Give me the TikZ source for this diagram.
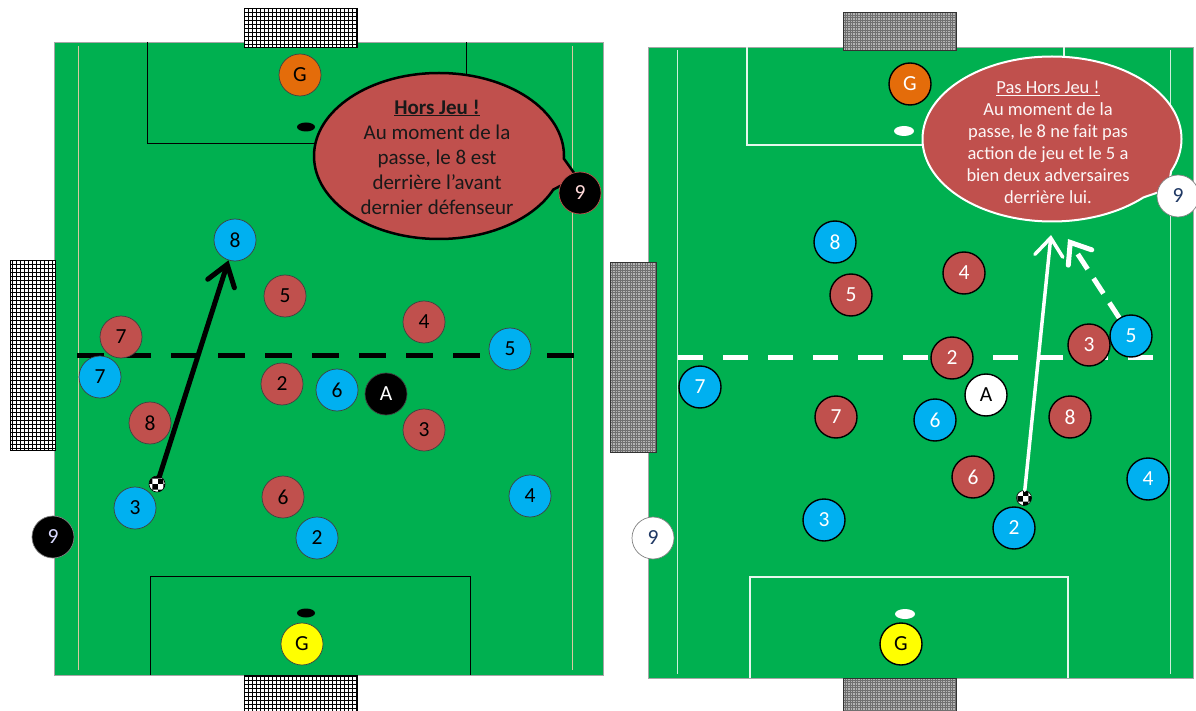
\documentclass[tikz,border=0pt]{standalone}
\usepackage{fontspec}
\setmainfont{Carlito}
\usetikzlibrary{shapes.callouts,arrows.meta,patterns}
\definecolor{pitch}{HTML}{00B050}
\definecolor{pred}{HTML}{C0504D}
\definecolor{pblue}{HTML}{00B0F0}
\definecolor{porange}{HTML}{E46C0A}
\definecolor{pyellow}{HTML}{FFFF00}
\definecolor{sideln}{HTML}{D9C9A0}
\definecolor{navy}{HTML}{1F3864}
\definecolor{netgray}{HTML}{B4B4B4}
\definecolor{netline}{HTML}{707070}
\tikzset{
  field/.style={fill=pitch,draw=gray!70,line width=0.8pt},
  goalnet/.style={fill=white,draw=black,line width=0.8pt},
  goalgrey/.style={fill=netgray,draw=black!80,line width=0.8pt},
  pl/.style={circle,minimum size=42pt,inner sep=0pt,draw=black!75,line width=0.7pt,
    font=\fontsize{21.5}{21.5}\selectfont},
  plR/.style={pl,draw=black,line width=1.4pt,text=white},
  lred/.style={pl,fill=pred},
  lblue/.style={pl,fill=pblue},
  rred/.style={plR,fill=pred},
  rblue/.style={plR,fill=pblue},
  ball/.style={circle,minimum size=16pt,inner sep=0pt,draw=black,line width=0.6pt,
    preaction={fill=white},pattern=checkerboard},
  bubble/.style={ellipse callout,fill=pred,inner sep=0pt,callout pointer arc=22},
}
\begin{document}
\begin{tikzpicture}[x=1pt,y=-1pt]
\useasboundingbox (0,0) rectangle (1196,711);
\fill[white] (0,0) rectangle (1196,711);

% ================= LEFT FIELD =================
\draw[field] (54,42) rectangle (603,675);
\draw[sideln,line width=0.9pt] (78,46) -- (78,670) (572,46) -- (572,670);
\draw[black,line width=0.9pt] (147,42) |- (466,143) -- (466,42);
\draw[black,line width=0.9pt] (150,675) |- (470,576) -- (470,675);
\fill[black] (306,127) ellipse [x radius=9, y radius=4.5];
\fill[black] (306,613) ellipse [x radius=9, y radius=4.5];
% goals
\draw[goalnet] (244,8) rectangle (357,47);
\draw[black,line width=0.9pt,step=4pt] (244,8) grid (357,47);
\draw[black,line width=0.8pt] (244,8) rectangle (357,47);
\draw[goalnet] (10,260) rectangle (55,450);
\draw[black,line width=0.9pt,step=4pt] (10,260) grid (55,450);
\draw[black,line width=0.8pt] (10,260) rectangle (55,450);
\draw[goalnet] (244,675) rectangle (357,711);
\draw[black,line width=0.9pt,step=4pt] (244,675) grid (357,711);
\draw[black,line width=0.8pt] (244,675) rectangle (357,711);
% offside line
\coordinate (offLa) at (77,355);
\coordinate (offLb) at (574,355);
\draw[black,line width=5pt,dash pattern=on 27pt off 20pt] (offLa) -- (offLb);
% callout
\node[bubble,draw=black,line width=2.5pt,minimum width=250pt,minimum height=166pt,
  callout absolute pointer={(577,177)}] (callL) at (439,156) {};
\node[align=center,text=black!90,font=\fontsize{21}{25}\selectfont] (txtL) at (437,157)
  {\textbf{\underline{Hors Jeu !}}\\Au moment de la\\passe, le 8 est\\derrière l’avant\\dernier défenseur};
% players
\node[lred] (lr5) at (285,296) {5};
\node[lred] (lr4) at (424,322) {4};
\node[lred] (lr7) at (121,337) {7};
\node[lred] (lr2) at (282,384) {2};
\node[lred] (lr8) at (150,423) {8};
\node[lred] (lr3) at (424,430) {3};
\node[lred] (lr6) at (283,497) {6};
\node[lblue] (lb8) at (235,240) {8};
\node[lblue] (lb5) at (510,349) {5};
\node[lblue] (lb7) at (100,377) {7};
\node[lblue] (lb6) at (337,390) {6};
\node[lblue] (lb3) at (135,508) {3};
\node[lblue] (lb4) at (530,496) {4};
\node[lblue] (lb2) at (317,538) {2};
\node[pl,fill=black,text=white] (lA) at (386,394) {A};
\node[pl,fill=porange] (lGo) at (300,75) {G};
\node[pl,fill=pyellow] (lGy) at (302,644) {G};
\node[pl,fill=black,draw=pred,text=red!15] (l9a) at (580,193) {9};
\node[pl,fill=black,draw=gray,text=blue!15] (l9b) at (53,537) {9};
\node[ball] (ballL) at (157,484) {};
\draw[black,line width=5pt,line cap=round,
  -{Straight Barb[length=20pt,width=28pt,line cap=round]}] (ballL) -- (lb8);

% ================= RIGHT FIELD =================
\draw[field] (648,47) rectangle (1193,678);
\draw[white!80!pitch,line width=1pt] (677,50) -- (677,674) (1170,50) -- (1170,674);
\draw[white!90!pitch,line width=1.4pt] (747,47) |- (1064,145) -- (1064,47);
\draw[white!90!pitch,line width=1.4pt] (750,678) |- (1068,577) -- (1068,678);
\fill[white] (904,131) ellipse [x radius=10, y radius=5];
\fill[white] (905,614) ellipse [x radius=10, y radius=5];
% goals
\draw[goalgrey] (843,12) rectangle (956,50);
\draw[netline,line width=0.5pt,step=2.5pt] (843,12) grid (956,50);
\draw[black!80,line width=0.8pt] (843,12) rectangle (956,50);
\draw[goalgrey] (610,262) rectangle (656,452);
\draw[netline,line width=0.5pt,step=2.5pt] (610,262) grid (656,452);
\draw[black!80,line width=0.8pt] (610,262) rectangle (656,452);
\draw[goalgrey] (843,678) rectangle (956,711);
\draw[netline,line width=0.5pt,step=2.5pt] (843,678) grid (956,711);
\draw[black!80,line width=0.8pt] (843,678) rectangle (956,711);
% offside line
\coordinate (offRa) at (678,357);
\coordinate (offRb) at (1153,357);
\draw[white,line width=5pt,dash pattern=on 25pt off 20pt] (offRa) -- (offRb);
% callout
\node[bubble,draw=white,line width=2pt,minimum width=259pt,minimum height=165pt,
  callout absolute pointer={(1168,189)}] (callR) at (1052,139) {};
\node[align=center,text=white!95!pred,font=\fontsize{18.5}{22}\selectfont] (txtR) at (1048,142)
  {\underline{Pas Hors Jeu !}\\Au moment de la\\passe, le 8 ne fait pas\\action de jeu et le 5 a\\bien deux adversaires\\derrière lui.};
% players
\node[rred] (rr4) at (964,273) {4};
\node[rred] (rr5) at (851,295) {5};
\node[rred] (rr3) at (1089,345) {3};
\node[rred] (rr2) at (952,358) {2};
\node[rred] (rr7) at (836,417) {7};
\node[rred] (rr8) at (1070,417) {8};
\node[rred] (rr6) at (973,477) {6};
\node[rblue] (rb8) at (835,242) {8};
\node[rblue] (rb5) at (1131,336) {5};
\node[rblue] (rb7) at (700,387) {7};
\node[rblue] (rb6) at (935,420) {6};
\node[rblue] (rb4) at (1148,479) {4};
\node[rblue] (rb3) at (824,520) {3};
\node[rblue] (rb2) at (1014,528) {2};
\node[plR,fill=white,text=black] (rA) at (986,395) {A};
\node[plR,fill=porange] (rGo) at (910,84) {G};
\node[plR,fill=pyellow,text=black] (rGy) at (901,644) {G};
\node[pl,fill=white,draw=gray,text=navy] (r9a) at (1178,196) {9};
\node[pl,fill=white,draw=gray,text=navy] (r9b) at (653,538) {9};
\node[ball,minimum size=15pt] (ballR) at (1024,498) {};
\coordinate (tipS) at (1051,235);
\coordinate (tipD) at (1068,239);
\draw[white,line width=3.5pt,line cap=round,
  -{Straight Barb[length=18pt,width=28pt,line cap=round]}] (ballR) -- (tipS);
\draw[white,line width=5pt,dash pattern=on 18pt off 11pt,
  -{Straight Barb[length=18pt,width=28pt,line cap=round]}] (rb5) -- (tipD);
\end{tikzpicture}
\end{document}
